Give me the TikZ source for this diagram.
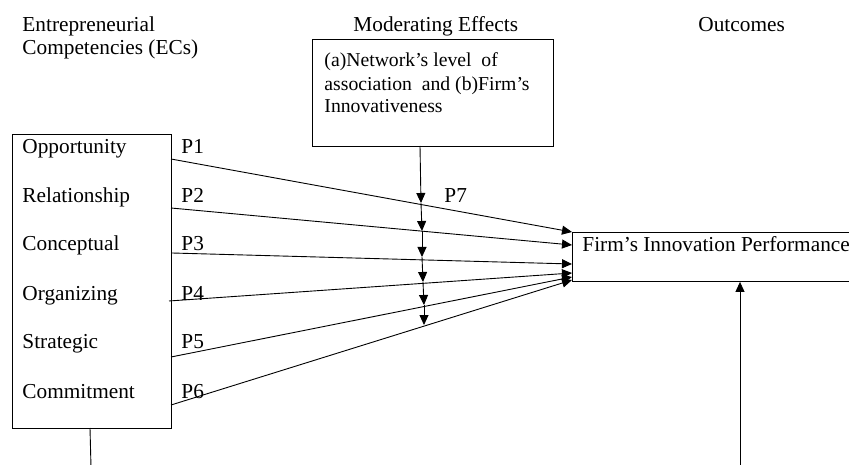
\documentclass[tikz,border=0pt]{standalone}
\usepackage{fontspec}
\setmainfont{Liberation Serif}
\usetikzlibrary{arrows.meta}
\begin{document}
\begin{tikzpicture}[x=1pt,y=-1pt,line width=0.9pt,
  lbl/.style={anchor=base west,inner sep=0pt,font=\fontsize{21.3}{25}\selectfont},
  small/.style={anchor=base west,inner sep=0pt,font=\fontsize{19.7}{23}\selectfont},
  box/.style={draw,line width=0.9pt,inner sep=0pt,anchor=north west},
  arr/.style={-{Triangle[length=10pt,width=9pt]}}]
\useasboundingbox (0,0) rectangle (849,465);
\fill[white] (0,0) rectangle (849,465);
% headings
\node[lbl] (h1) at (22,32) {Entrepreneurial};
\node[lbl] (h2) at (22,55) {Competencies (ECs)};
\node[lbl] (h3) at (353,32) {Moderating Effects};
\node[lbl] (h4) at (698,32) {Outcomes};
% boxes
\node[box,minimum width=159pt,minimum height=294pt] (ec) at (12,134) {};
\node[box,minimum width=241pt,minimum height=107pt] (mod) at (312,39) {};
\node[box,minimum width=282pt,minimum height=49pt] (firm) at (572,232) {};
% moderating text
\node[small] (m1t) at (324,67) {(a)Network’s level \ of};
\node[small] (m2t) at (324,91) {association \ and (b)Firm’s};
\node[small] (m3t) at (324,113) {Innovativeness};
\node[lbl] (ft) at (582,252) {Firm’s Innovation Performance};
% EC items
\node[lbl] (e1) at (22,154) {Opportunity};
\node[lbl] (e2) at (22,203) {Relationship};
\node[lbl] (e3) at (22,251) {Conceptual};
\node[lbl] (e4) at (22,300) {Organizing};
\node[lbl] (e5) at (22,348) {Strategic};
\node[lbl] (e6) at (22,398) {Commitment};
% P labels
\node[lbl] (p1) at (181,154) {P1};
\node[lbl] (p2) at (181,203) {P2};
\node[lbl] (p3) at (181,251) {P3};
\node[lbl] (p4) at (181,300) {P4};
\node[lbl] (p5) at (181,348) {P5};
\node[lbl] (p6) at (181,398) {P6};
\node[lbl] (p7) at (444,203) {P7};
% connector coordinates
\coordinate (s1) at (171,159);
\coordinate (s2) at (171,208);
\coordinate (s3) at (172,253);
\coordinate (s4) at (169,301);
\coordinate (s5) at (171,357);
\coordinate (s6) at (171,405);
\coordinate (t1) at (572,232);
\coordinate (t2) at (572,245);
\coordinate (t3) at (572,264);
\coordinate (t4) at (572,273);
\coordinate (t5) at (572,277);
\coordinate (t6) at (572,280);
\foreach \i in {1,...,6} {\draw[arr] (s\i) -- (t\i);}
% moderating chain
\coordinate (m0) at (420,146);
\coordinate (m1) at (421,203);
\coordinate (m2) at (422,231);
\coordinate (m3) at (422,257);
\coordinate (m4) at (423,282);
\coordinate (m5) at (424,305);
\coordinate (m6) at (424,325);
\draw[arr] (m0) -- (m1);
\draw[arr] (m1) -- (m2);
\draw[arr] (m2) -- (m3);
\draw[arr] (m3) -- (m4);
\draw[arr] (m4) -- (m5);
\draw[arr] (m5) -- (m6);
% bottom lines
\coordinate (b0) at (90,428);
\coordinate (b1) at (91,467);
\draw (b0) -- (b1);
\coordinate (u0) at (740,467);
\draw[arr] (u0) -- (firm.south -| u0);
\end{tikzpicture}
\end{document}
